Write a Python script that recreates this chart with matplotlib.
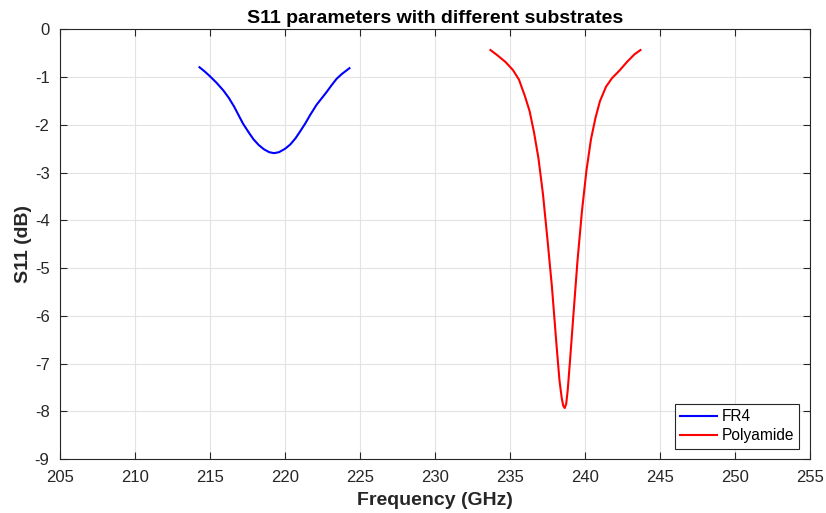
import matplotlib
matplotlib.use("Agg")
from matplotlib import pyplot as plt

# FR4 substrate
fr4_freq = [214.3, 214.65, 215.0, 215.45, 215.9, 216.25, 216.6, 216.9, 217.2, 217.55,
            217.9, 218.25, 218.6, 218.95, 219.27, 219.6, 220.0, 220.35, 220.7, 221.0,
            221.35, 221.7, 222.1, 222.45, 222.8, 223.1, 223.45, 223.8, 224.3]
fr4_s11 = [-0.79, -0.88, -0.98, -1.12, -1.28, -1.43, -1.61, -1.79, -1.97, -2.14,
           -2.30, -2.42, -2.51, -2.57, -2.59, -2.57, -2.50, -2.41, -2.28, -2.14,
           -1.97, -1.78, -1.58, -1.44, -1.30, -1.17, -1.03, -0.93, -0.81]

# Polyamide substrate
poly_freq = [233.7, 234.2, 234.7, 235.2, 235.6, 236.0, 236.3, 236.6, 236.9, 237.2,
             237.5, 237.8, 238.1, 238.3, 238.45, 238.55, 238.65, 238.75, 238.85, 239.0,
             239.2, 239.5, 239.8, 240.1, 240.4, 240.7, 241.0, 241.4, 241.8, 242.3,
             242.8, 243.3, 243.7]
poly_s11 = [-0.43, -0.55, -0.68, -0.85, -1.05, -1.40, -1.70, -2.15, -2.70, -3.45,
            -4.40, -5.40, -6.60, -7.35, -7.72, -7.88, -7.93, -7.84, -7.55, -6.95,
            -6.10, -4.85, -3.80, -2.95, -2.30, -1.85, -1.50, -1.20, -1.02, -0.86,
            -0.68, -0.52, -0.43]

x_ticks = list(range(205, 256, 5))
y_ticks = list(range(-9, 1))


def s11_plot():
    plt.rcParams['font.family'] = ['Liberation Sans', 'DejaVu Sans']
    plt.rcParams['axes.unicode_minus'] = False
    axis_color = '#262626'

    fig = plt.figure(figsize=(8.26, 5.13), dpi=100)
    ax = fig.add_axes([0.0726, 0.105, 0.908, 0.8375])

    ax.plot(fr4_freq, fr4_s11, color='#0000ff', lw=1.5, label='FR4')
    ax.plot(poly_freq, poly_s11, color='#ff0000', lw=1.5, label='Polyamide')

    ax.set_xlim(205, 255)
    ax.set_ylim(-9, 0)
    ax.set_xticks(x_ticks)
    ax.set_yticks(y_ticks)

    # 网格和刻度
    ax.grid(True, color='#e3e3e3', lw=0.8)
    ax.set_axisbelow(True)
    ax.tick_params(direction='in', top=True, right=True, length=5, width=0.8,
                   colors=axis_color, labelsize=12)
    ax.tick_params(axis='x', pad=8)
    ax.tick_params(axis='y', pad=7.5)
    for s in ax.spines.values():
        s.set_color(axis_color)
        s.set_linewidth(0.8)

    ax.set_title('S11 parameters with different substrates', fontsize=14,
                 fontweight='bold', color='black', pad=5)
    ax.set_xlabel('Frequency (GHz)', fontsize=14, fontweight='bold', color=axis_color, labelpad=5)
    ax.set_ylabel('S11 (dB)', fontsize=14, fontweight='bold', color=axis_color, labelpad=2)

    leg = ax.legend(loc='lower right', fontsize=11.2, fancybox=False, framealpha=1,
                    edgecolor=axis_color, borderpad=0.35, labelspacing=0.25,
                    handlelength=2.4, handletextpad=0.26, borderaxespad=0.68)
    leg.get_frame().set_linewidth(0.8)

    fig.savefig('out.png', dpi=100)


if __name__ == '__main__':
    s11_plot()
